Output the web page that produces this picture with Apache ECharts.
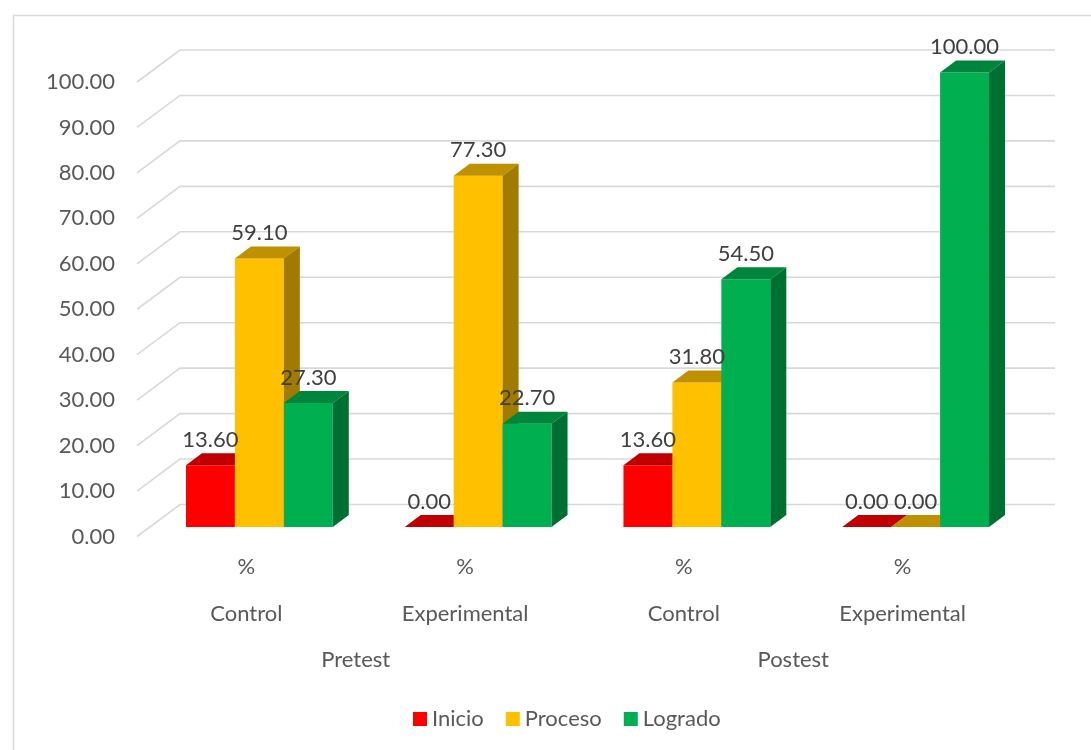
<!DOCTYPE html>
<html><head><meta charset="utf-8">
<script src="https://cdn.jsdelivr.net/npm/echarts@6/dist/echarts.min.js"></script>
<style>html,body{margin:0;padding:0;background:#fff}#c{width:1091px;height:750px}</style>
</head><body><div id="c"></div>
<script>
const categories = ['Control', 'Experimental', 'Control', 'Experimental'];
const groups = ['Pretest', 'Postest'];
const unitLabel = '%';
const seriesNames = ['Inicio', 'Proceso', 'Logrado'];
const inicio = [13.6, 0.0, 13.6, 0.0];
const proceso = [59.1, 77.3, 31.8, 0.0];
const logrado = [27.3, 22.7, 54.5, 100.0];
const gridValues = [0, 10, 20, 30, 40, 50, 60, 70, 80, 90, 100];

const FONT = 'Lato';
const FS = 22;
const SHIFT = [13, -9.5];
const DEPTH = [16, -12];
const WALL = [43, -32];
const palette = [
  { front: '#FF0000', top: '#C00000', side: '#A00000' },
  { front: '#FFC000', top: '#BF9000', side: '#A17A00' },
  { front: '#00B050', top: '#00853C', side: '#006F32' }
];

function barRenderer(k) {
  const c = palette[k];
  return function (params, api) {
    const cat = api.value(0), v = api.value(1);
    const base = api.coord([cat, 0]);
    const top = api.coord([cat, v]);
    const band = api.size([1, 0])[0];
    const w = band * 49 / 219;
    const cx = base[0] + SHIFT[0] + (k - 1) * w;
    const x0 = cx - w / 2, x1 = cx + w / 2;
    const yb = base[1] + SHIFT[1], yt = top[1] + SHIFT[1];
    const dx = DEPTH[0], dy = DEPTH[1];
    return {
      type: 'group',
      children: [
        { type: 'polygon', shape: { points: [[x0, yb], [x1, yb], [x1, yt], [x0, yt]] }, style: { fill: c.front } },
        { type: 'polygon', shape: { points: [[x0, yt], [x1, yt], [x1 + dx, yt + dy], [x0 + dx, yt + dy]] }, style: { fill: c.top } },
        { type: 'polygon', shape: { points: [[x1, yt], [x1, yb], [x1 + dx, yb + dy], [x1 + dx, yt + dy]] }, style: { fill: c.side } },
        { type: 'text', z2: 100, style: { text: v.toFixed(2), x: cx, y: yt + dy - 13.5, align: 'center', verticalAlign: 'middle', fill: '#404040', font: FS + 'px ' + FONT } }
      ]
    };
  };
}

function gridRenderer(params, api) {
  const v = api.value(1);
  const cs = params.coordSys;
  const y = api.coord([0, v])[1];
  const xl = cs.x, xr = cs.x + cs.width;
  return {
    type: 'polyline',
    shape: { points: [[xl, y], [xl + WALL[0], y + WALL[1]], [xr + WALL[0], y + WALL[1]]] },
    style: { stroke: '#D9D9D9', lineWidth: 1.6, fill: null }
  };
}

const chart = echarts.init(document.getElementById('c'));
const seriesData = [inicio, proceso, logrado];
const option = {
  animation: false,
  backgroundColor: '#fff',
  textStyle: { fontFamily: FONT },
  graphic: [{ type: 'rect', left: 11, top: 13, shape: { width: 1100, height: 760 }, style: { fill: null, stroke: '#D9D9D9', lineWidth: 1.5 }, silent: true }],
  grid: { left: 137, right: 79, top: 82, bottom: 213.5 },
  legend: {
    data: seriesNames.map(n => ({ name: n, icon: 'rect' })),
    top: 703, left: 408,
    itemWidth: 14, itemHeight: 14, itemGap: 22,
    textStyle: { fontSize: FS, color: '#595959', fontFamily: FONT }
  },
  xAxis: [
    {
      type: 'category', data: categories,
      axisLine: { show: false }, axisTick: { show: false }, splitLine: { show: false },
      axisLabel: { interval: 0, margin: 7, lineHeight: 47, fontSize: FS, color: '#595959', fontFamily: FONT,
        formatter: n => unitLabel + '\n' + n }
    },
    {
      type: 'category', data: groups, position: 'bottom', offset: 0,
      axisLine: { show: false }, axisTick: { show: false }, splitLine: { show: false },
      axisLabel: { interval: 0, margin: 112, fontSize: FS, color: '#595959', fontFamily: FONT }
    }
  ],
  yAxis: {
    type: 'value', min: 0, max: 100, interval: 10,
    axisLine: { show: false }, axisTick: { show: false }, splitLine: { show: false },
    axisLabel: { margin: 22, fontSize: FS, color: '#595959', fontFamily: FONT, formatter: v => v.toFixed(2) }
  },
  series: [
    {
      type: 'custom', name: 'grid', z: 1, clip: false, silent: true,
      renderItem: gridRenderer,
      data: gridValues.map(v => [0, v])
    }
  ].concat(seriesNames.map((n, k) => ({
    type: 'custom', name: n, z: 2, clip: false,
    itemStyle: { color: palette[k].front },
    renderItem: barRenderer(k),
    data: seriesData[k].map((v, i) => [i, v])
  })))
};
chart.setOption(option);
</script>
</body></html>
